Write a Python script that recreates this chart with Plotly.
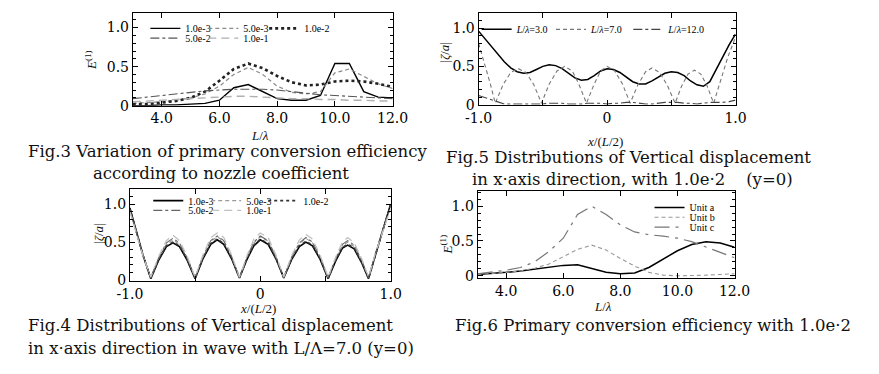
import plotly.graph_objects as go

W, H = 879, 374

# ---------------- data ----------------
# Fig.3  E(1) vs L/lambda for nozzle coefficients
f3_x = [3.0, 3.5, 4.0, 4.5, 5.0, 5.5, 6.0, 6.5, 7.0, 7.5, 8.0, 8.5, 9.0, 9.5, 10.0, 10.5, 11.0, 11.5, 12.0]
f3_names = ["1.0e-3", "5.0e-3", "1.0e-2", "5.0e-2", "1.0e-1"]
e_1e3 = [0.00, 0.00, 0.01, 0.01, 0.02, 0.03, 0.07, 0.23, 0.27, 0.18, 0.09, 0.07, 0.07, 0.13, 0.54, 0.54, 0.18, 0.11, 0.10]
e_5e3 = [0.03, 0.04, 0.05, 0.07, 0.10, 0.15, 0.25, 0.40, 0.49, 0.40, 0.25, 0.17, 0.15, 0.18, 0.42, 0.47, 0.38, 0.28, 0.22]
e_1e2 = [0.02, 0.02, 0.04, 0.06, 0.10, 0.18, 0.32, 0.47, 0.54, 0.48, 0.38, 0.30, 0.26, 0.27, 0.31, 0.32, 0.31, 0.28, 0.24]
e_5e2 = [0.09, 0.11, 0.13, 0.15, 0.17, 0.19, 0.20, 0.21, 0.21, 0.21, 0.20, 0.18, 0.16, 0.14, 0.13, 0.12, 0.11, 0.10, 0.09]
e_1e1 = [0.05, 0.06, 0.07, 0.08, 0.09, 0.10, 0.11, 0.12, 0.12, 0.11, 0.10, 0.09, 0.09, 0.08, 0.08, 0.07, 0.07, 0.06, 0.06]

# Fig.4  |zeta/a| vs x/(L/2), L/lambda = 7.0
f4_x = [-1.00, -0.95, -0.90, -0.84, -0.78, -0.72, -0.67, -0.62, -0.56, -0.50, -0.44, -0.38, -0.33, -0.28, -0.22,
        -0.16, -0.10, -0.05, 0.00, 0.06, 0.12, 0.18, 0.24, 0.30, 0.35, 0.40, 0.46, 0.52, 0.58, 0.63, 0.67, 0.72,
        0.78, 0.83, 0.88, 0.94, 1.00]
z_1e3 = [0.95, 0.65, 0.33, 0.02, 0.26, 0.44, 0.49, 0.44, 0.26, 0.02, 0.28, 0.47, 0.53, 0.47, 0.28, 0.03, 0.28, 0.45,
         0.53, 0.47, 0.28, 0.03, 0.27, 0.44, 0.50, 0.45, 0.27, 0.02, 0.26, 0.42, 0.46, 0.41, 0.22, 0.02, 0.32, 0.66, 1.00]
z_5e3 = [0.93, 0.64, 0.33, 0.03, 0.28, 0.47, 0.53, 0.47, 0.28, 0.03, 0.30, 0.51, 0.57, 0.51, 0.30, 0.03, 0.30, 0.49,
         0.57, 0.51, 0.30, 0.03, 0.29, 0.48, 0.55, 0.49, 0.29, 0.03, 0.28, 0.45, 0.50, 0.44, 0.24, 0.03, 0.33, 0.66, 0.98]
z_1e2 = [0.94, 0.65, 0.33, 0.02, 0.27, 0.45, 0.50, 0.45, 0.27, 0.02, 0.29, 0.48, 0.54, 0.48, 0.29, 0.03, 0.29, 0.46,
         0.54, 0.48, 0.29, 0.03, 0.28, 0.45, 0.51, 0.46, 0.28, 0.02, 0.27, 0.43, 0.47, 0.42, 0.23, 0.02, 0.32, 0.66, 0.99]
z_5e2 = [0.92, 0.63, 0.32, 0.03, 0.29, 0.49, 0.55, 0.49, 0.29, 0.03, 0.31, 0.52, 0.58, 0.52, 0.31, 0.03, 0.31, 0.50,
         0.58, 0.52, 0.31, 0.03, 0.30, 0.49, 0.56, 0.50, 0.30, 0.03, 0.29, 0.47, 0.52, 0.46, 0.25, 0.03, 0.33, 0.65, 0.96]
z_1e1 = [0.90, 0.62, 0.32, 0.04, 0.31, 0.52, 0.59, 0.52, 0.31, 0.04, 0.33, 0.56, 0.62, 0.56, 0.33, 0.04, 0.33, 0.54,
         0.62, 0.56, 0.33, 0.04, 0.32, 0.53, 0.60, 0.54, 0.32, 0.04, 0.31, 0.50, 0.56, 0.49, 0.27, 0.04, 0.34, 0.64, 0.94]

# Fig.5  |zeta/a| vs x/(L/2) for several L/lambda, nozzle 1.0e-2
f5_x = [-1.00, -0.95, -0.90, -0.85, -0.80, -0.75, -0.70, -0.65, -0.60, -0.55, -0.50, -0.45, -0.40, -0.35, -0.30,
        -0.25, -0.20, -0.15, -0.10, -0.05, 0.00, 0.05, 0.10, 0.15, 0.20, 0.25, 0.30, 0.35, 0.40, 0.45, 0.50, 0.55,
        0.60, 0.65, 0.70, 0.75, 0.80, 0.85, 0.90, 0.95, 1.00]
zeta_3 = [0.96, 0.86, 0.76, 0.65, 0.56, 0.48, 0.43, 0.41, 0.42, 0.46, 0.50, 0.52, 0.51, 0.47, 0.41, 0.35, 0.32, 0.33,
          0.38, 0.44, 0.47, 0.46, 0.42, 0.36, 0.30, 0.27, 0.27, 0.31, 0.36, 0.41, 0.43, 0.42, 0.38, 0.31, 0.26, 0.24,
          0.30, 0.45, 0.62, 0.78, 0.92]
zeta_12 = [0.12, 0.09, 0.06, 0.03, 0.01, 0.01, 0.01, 0.01, 0.01, 0.01, 0.01, 0.02, 0.02, 0.02, 0.01, 0.01, 0.01, 0.02,
           0.02, 0.02, 0.01, 0.02, 0.02, 0.03, 0.03, 0.02, 0.01, 0.01, 0.02, 0.03, 0.03, 0.03, 0.02, 0.02, 0.01, 0.02,
           0.03, 0.03, 0.03, 0.04, 0.06]
f5_x7 = [-1.00, -0.95, -0.91, -0.87, -0.81, -0.75, -0.69, -0.63, -0.57, -0.51, -0.45, -0.39, -0.33, -0.27, -0.22,
         -0.16, -0.10, -0.05, 0.00, 0.06, 0.12, 0.18, 0.24, 0.30, 0.35, 0.41, 0.47, 0.53, 0.58, 0.63, 0.68, 0.73,
         0.78, 0.83, 0.88, 0.94, 1.00]
zeta_7 = [0.80, 0.52, 0.28, 0.02, 0.26, 0.42, 0.47, 0.42, 0.26, 0.02, 0.27, 0.44, 0.50, 0.44, 0.27, 0.02, 0.27, 0.44,
          0.50, 0.44, 0.27, 0.02, 0.26, 0.43, 0.48, 0.42, 0.25, 0.02, 0.24, 0.40, 0.45, 0.40, 0.24, 0.02, 0.30, 0.62, 0.88]

# Fig.6  E(1) vs L/lambda for units a, b, c
f6_x = [3.0, 3.5, 4.0, 4.5, 5.0, 5.5, 6.0, 6.5, 7.0, 7.5, 8.0, 8.5, 9.0, 9.5, 10.0, 10.5, 11.0, 11.5, 12.0]
unit_a = [0.02, 0.03, 0.05, 0.07, 0.10, 0.13, 0.15, 0.16, 0.10, 0.05, 0.03, 0.04, 0.12, 0.24, 0.36, 0.45, 0.49, 0.47, 0.41]
unit_b = [0.02, 0.03, 0.05, 0.07, 0.11, 0.17, 0.28, 0.38, 0.44, 0.37, 0.25, 0.14, 0.05, 0.01, 0.00, 0.00, 0.01, 0.02, 0.03]
unit_c = [0.03, 0.05, 0.08, 0.12, 0.20, 0.35, 0.54, 0.88, 1.00, 0.88, 0.73, 0.63, 0.59, 0.57, 0.54, 0.49, 0.41, 0.34, 0.26]

# ---------------- figure ----------------
SERIF = "DejaVu Serif"
TIMES = "Liberation Serif"


def px(x):
    return x / W


def py(y):
    return 1 - y / H


fig = go.Figure()
legend_layout = {}
leg_count = [0]
legfont = dict(family=TIMES, size=10, color="black")


def new_legend(x, y):
    """One legend per entry so each entry can sit where the reference puts it."""
    leg_count[0] += 1
    key = "legend" if leg_count[0] == 1 else "legend%d" % leg_count[0]
    legend_layout[key] = dict(x=px(x), y=py(y), xanchor="left", yanchor="middle", orientation="h",
                              bgcolor="rgba(0,0,0,0)", borderwidth=0, font=legfont, itemwidth=30,
                              visible=True)
    return key


# Fig.3 traces
f3_series = [e_1e3, e_5e3, e_1e2, e_5e2, e_1e1]
f3_styles = [dict(color="black", width=1.4, dash="solid"),
             dict(color="#8a8a8a", width=1.2, dash="4px,3px"),
             dict(color="#222", width=2.6, dash="dot"),
             dict(color="#555", width=1.1, dash="dashdot"),
             dict(color="#b0b0b0", width=1.4, dash="8px,5px")]
f3_legpos = [(136, 29), (196, 29), (259, 29), (136, 39), (196, 39)]
for name, ys, st, pos in zip(f3_names, f3_series, f3_styles, f3_legpos):
    fig.add_trace(go.Scatter(x=f3_x, y=ys, mode="lines", name=name, line=st, showlegend=True,
                             xaxis="x", yaxis="y", legend=new_legend(*pos)))

# Fig.5 traces
f5_names = ["<i>L</i>/<i>λ</i>=3.0", "<i>L</i>/<i>λ</i>=7.0", "<i>L</i>/<i>λ</i>=12.0"]
fig.add_trace(go.Scatter(x=f5_x, y=zeta_3, mode="lines", name=f5_names[0],
                         line=dict(color="black", width=1.5), xaxis="x2", yaxis="y2",
                         legend=new_legend(479, 30)))
fig.add_trace(go.Scatter(x=f5_x7, y=zeta_7, mode="lines", name=f5_names[1],
                         line=dict(color="#777", width=1.1, dash="4px,3px"), xaxis="x2", yaxis="y2",
                         legend=new_legend(556, 30)))
fig.add_trace(go.Scatter(x=f5_x, y=zeta_12, mode="lines", name=f5_names[2],
                         line=dict(color="#444", width=1.1, dash="dashdot"), xaxis="x2", yaxis="y2",
                         legend=new_legend(636, 30)))

# Fig.4 traces
f4_series = [z_1e3, z_5e3, z_1e2, z_5e2, z_1e1]
f4_styles = [dict(color="black", width=1.6, dash="solid"),
             dict(color="#9a9a9a", width=1.1, dash="4px,3px"),
             dict(color="#333", width=1.6, dash="dot"),
             dict(color="#666", width=1.1, dash="dashdot"),
             dict(color="#c0c0c0", width=1.3, dash="8px,5px")]
f4_legpos = [(139, 205), (199, 205), (258, 205), (139, 215), (199, 215)]
for name, ys, st, pos in zip(f3_names, f4_series, f4_styles, f4_legpos):
    fig.add_trace(go.Scatter(x=f4_x, y=ys, mode="lines", name=name, line=st,
                             xaxis="x3", yaxis="y3", legend=new_legend(*pos)))

# Fig.6 traces
fig.add_trace(go.Scatter(x=f6_x, y=unit_a, mode="lines", name="Unit a",
                         line=dict(color="black", width=1.5), xaxis="x4", yaxis="y4",
                         legend=new_legend(658, 212)))
fig.add_trace(go.Scatter(x=f6_x, y=unit_b, mode="lines", name="Unit b",
                         line=dict(color="#999", width=1.1, dash="4px,3px"), xaxis="x4", yaxis="y4",
                         legend=new_legend(658, 222)))
fig.add_trace(go.Scatter(x=f6_x, y=unit_c, mode="lines", name="Unit c",
                         line=dict(color="#777", width=1.2, dash="longdashdot"), xaxis="x4", yaxis="y4",
                         legend=new_legend(658, 232)))

tickfont = dict(family=SERIF, size=14, color="black")
base = dict(showline=True, linecolor="black", linewidth=1, mirror="ticks", ticks="inside", ticklen=5,
            tickcolor="black", showgrid=False, zeroline=False, tickfont=tickfont, fixedrange=True)
yminor = dict(tickmode="linear", tick0=0, dtick=0.1, ticks="inside", ticklen=3, tickcolor="black", showgrid=False)
xminor = dict(tickmode="linear", tick0=-1, dtick=0.5, ticks="inside", ticklen=5, tickcolor="black", showgrid=False)

x_lam = dict(base, range=[3, 12], tickvals=[4, 6, 8, 10, 12], ticktext=["4.0", "6.0", "8.0", "10.0", "12.0"])
x_pos = dict(base, range=[-1, 1], tickvals=[-1, 0, 1], ticktext=["-1.0", "0", "1.0"], minor=xminor)
y_common = dict(base, tickvals=[0, 0.5, 1.0], ticktext=["0", "0.5", "1.0"], minor=yminor)

fig.update_layout(
    width=W, height=H, margin=dict(l=0, r=0, t=0, b=0),
    paper_bgcolor="white", plot_bgcolor="white", showlegend=True,
    font=dict(family=SERIF, color="black"),
    xaxis=dict(x_lam, domain=[px(123), px(392)], anchor="y"),
    yaxis=dict(y_common, domain=[py(108), py(13)], range=[0, 1.19], anchor="x"),
    xaxis2=dict(x_pos, domain=[px(481), px(747)], anchor="y2"),
    yaxis2=dict(y_common, domain=[py(107), py(13)], range=[0, 1.2], anchor="x2"),
    xaxis3=dict(x_pos, domain=[px(120), px(390)], anchor="y3"),
    yaxis3=dict(y_common, domain=[py(287), py(193)], range=[-0.01, 1.2], anchor="x3"),
    xaxis4=dict(x_lam, domain=[px(480), px(746)], anchor="y4"),
    yaxis4=dict(y_common, domain=[py(284), py(195)], range=[-0.03, 1.22], anchor="x4"),
    **legend_layout,
)

ann = []


def add_text(text, x, y, size=16.5, family=SERIF, angle=0, xanchor="center"):
    ann.append(dict(text=text, x=px(x), y=py(y), xref="paper", yref="paper", showarrow=False,
                    xanchor=xanchor, yanchor="middle", textangle=angle,
                    font=dict(family=family, size=size, color="#111")))


# axis titles
add_text("<i>E</i><sup>(1)</sup>", 79, 61, size=13, family=TIMES, angle=-90)
add_text("<i>L</i>/<i>λ</i>", 255, 138, size=13, family=TIMES)
add_text("|<i>ζ</i>/<i>a</i>|", 446, 53, size=13, family=TIMES, angle=-90)
add_text("<i>x</i>/(<i>L</i>/2)", 612, 145, size=13, family=TIMES)
add_text("|<i>ζ</i>/<i>a</i>|", 88, 238, size=13, family=TIMES, angle=-90)
add_text("<i>x</i>/(<i>L</i>/2)", 253, 315, size=13, family=TIMES)
add_text("<i>E</i><sup>(1)</sup>", 447, 250, size=13, family=TIMES, angle=-90)
add_text("<i>L</i>/<i>λ</i>", 610, 313, size=13, family=TIMES)

# captions
add_text("Fig.3 Variation of primary conversion efficiency", 12, 155, xanchor="left")
add_text("according to nozzle coefficient", 214, 177)
add_text("Fig.5 Distributions of Vertical displacement", 445, 161, xanchor="left")
add_text("in x·axis direction, with 1.0e·2\u00a0\u00a0\u00a0\u00a0(y=0)", 472, 183, xanchor="left")
add_text("Fig.4 Distributions of Vertical displacement", 12, 333, xanchor="left")
add_text("in x·axis direction in wave with L/Λ=7.0 (y=0)", 12, 356, xanchor="left")
add_text("Fig.6 Primary conversion efficiency with 1.0e·2", 455, 333, xanchor="left")

fig.update_layout(annotations=ann)

fig.write_html("out.html")
